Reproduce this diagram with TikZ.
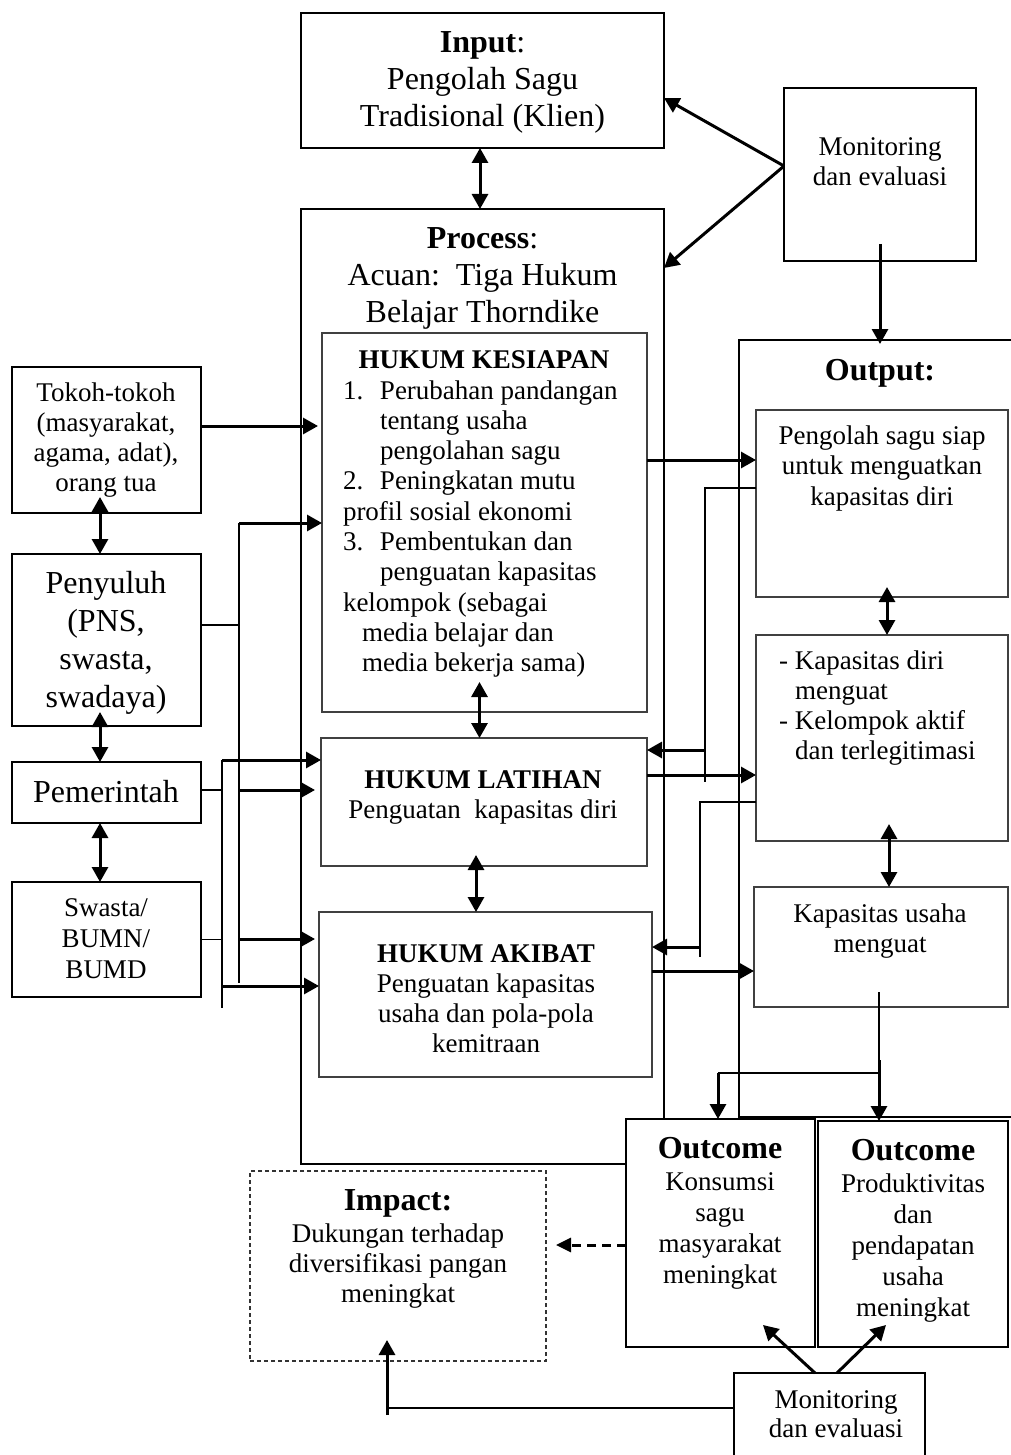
\documentclass[tikz,border=0pt]{standalone}
\usepackage{fontspec}
\setmainfont{Liberation Serif}
\usetikzlibrary{arrows.meta,fit,calc}
\newcommand\fA{\fontsize{27}{30}\selectfont}
\newcommand\fB{\fontsize{32}{37}\selectfont}
\newcommand\stA{\rule{0pt}{21pt}}
\newcommand\stB{\rule{0pt}{26pt}}
\begin{document}
\begin{tikzpicture}[x=1pt,y=-1pt,
  box/.style={draw=black, line width=1.3pt, inner sep=0pt, outer sep=0pt},
  sub/.style={box, draw=black!75},
  tx/.style={inner sep=0pt, outer sep=0pt, anchor=north, align=center},
  txl/.style={inner sep=0pt, outer sep=0pt, anchor=north west, align=left},
  thinl/.style={line width=1.3pt},
  arr/.style={line width=3pt, -{Triangle[length=15pt,width=16pt]}},
  darr/.style={line width=3pt, {Triangle[length=15pt,width=16pt]}-{Triangle[length=15pt,width=16pt]}},
  dasharr/.style={line width=3pt, dash pattern=on 9pt off 6pt, -{Triangle[length=15pt,width=14pt]}},
]
\useasboundingbox (0,0) rectangle (1011,1455);

% ---------- boxes ----------
\node[box, fit={(301,13) (664,148)}] (inp) {};
\node[box, fit={(784,88) (976,261)}] (mon1) {};
\node[box, fit={(301,209) (664,1164)}] (proc) {};
\node[sub, fit={(322,333) (647,712)}] (kes) {};
\node[sub, fit={(321,738) (647,866)}] (lat) {};
\node[sub, fit={(319,912) (652,1077)}] (aki) {};
\node[box, fit={(12,367) (201,513)}] (tok) {};
\node[box, fit={(12,554) (201,726)}] (pen) {};
\node[box, fit={(12,762) (201,823)}] (pem) {};
\node[box, fit={(12,882) (201,997)}] (swa) {};
\node[box, fit={(739,340) (1040,1117)}] (outp) {};
\node[sub, fit={(756,410) (1008,597)}] (o1) {};
\node[sub, fit={(756,635) (1008,841)}] (o2) {};
\node[sub, fit={(754,887) (1008,1007)}] (o3) {};
\node[box, fill=white, fit={(626,1119) (815,1347)}] (oc1) {};
\node[box, fill=white, fit={(818,1121) (1008,1347)}] (oc2) {};
\node[box, draw=black!80, line width=1.1pt, dash pattern=on 4pt off 3pt, fit={(250,1171) (546,1361)}] (imp) {};
\node[box, fit={(734,1373) (925,1475)}] (mon2) {};

% ---------- texts ----------
\node[tx, font=\fB] (tinp) at (482.5,27) {\stB\textbf{Input}:\\Pengolah Sagu\\Tradisional (Klien)};
\node[tx, font=\fB] (tproc) at (482.5,222) {\stB\textbf{Process}:\\Acuan:~~Tiga Hukum\\Belajar Thorndike};
\node[tx, font=\fA] (tmon1) at (880,135) {\stA Monitoring\\dan evaluasi};
\node[tx, font=\fA] (ttok) at (106,380) {\stA Tokoh-tokoh\\(masyarakat,\\agama, adat),\\orang tua};
\node[tx, font=\fontsize{32}{38}\selectfont] (tpen) at (106,567) {\stB Penyuluh\\(PNS,\\swasta,\\swadaya)};
\node[tx, font=\fB] (tpem) at (106,776) {\stB Pemerintah};
\node[tx, font=\fontsize{27}{31}\selectfont] (tswa) at (106,895) {\stA Swasta/\\BUMN/\\BUMD};
\node[tx, font=\fA\bfseries] (tkes) at (484,347) {\stA HUKUM KESIAPAN};
\node[txl, font=\fontsize{27}{30.3}\selectfont] (tkesl) at (343,378) {\stA\makebox[37pt][l]{1.}Perubahan pandangan\\
  \hspace*{37pt}tentang usaha\\
  \hspace*{37pt}pengolahan sagu\\
  \makebox[37pt][l]{2.}Peningkatan mutu\\
  profil sosial ekonomi\\
  \makebox[37pt][l]{3.}Pembentukan dan\\
  \hspace*{37pt}penguatan kapasitas\\
  kelompok (sebagai\\
  \hspace*{19pt}media belajar dan\\
  \hspace*{19pt}media bekerja sama)};
\node[tx, font=\fA] (tlat) at (483,767) {\stA\textbf{HUKUM LATIHAN}\\Penguatan~~kapasitas diri};
\node[tx, font=\fontsize{27}{30.3}\selectfont] (taki) at (486,941) {\stA\textbf{HUKUM AKIBAT}\\Penguatan kapasitas\\usaha dan pola-pola\\kemitraan};
\node[tx, font=\fB\bfseries] (tout) at (880,354) {\stB Output:};
\node[tx, font=\fontsize{27}{30.5}\selectfont] (to1) at (882,423) {\stA Pengolah sagu siap\\untuk menguatkan\\kapasitas diri};
\node[txl, font=\fA] (to2) at (779,648) {\stA\makebox[16pt][l]{-}Kapasitas diri\\
  \hspace*{16pt}menguat\\
  \makebox[16pt][l]{-}Kelompok aktif\\
  \hspace*{16pt}dan terlegitimasi};
\node[tx, font=\fA] (to3) at (880,901) {\stA Kapasitas usaha\\menguat};
\node[tx, font=\fB\bfseries] (toc1t) at (720,1132) {\stB Outcome};
\node[tx, font=\fontsize{27}{31}\selectfont] (toc1b) at (720,1169) {\stA Konsumsi\\sagu\\masyarakat\\meningkat};
\node[tx, font=\fB\bfseries] (toc2t) at (913,1134) {\stB Outcome};
\node[tx, font=\fontsize{27}{31}\selectfont] (toc2b) at (913,1171) {\stA Produktivitas\\dan\\pendapatan\\usaha\\meningkat};
\node[tx, font=\fB\bfseries] (timpt) at (398,1184) {\stB Impact:};
\node[tx, font=\fA] (timpb) at (398,1221) {\stA Dukungan terhadap\\diversifikasi pangan\\meningkat};
\node[tx, font=\fontsize{27}{29}\selectfont] (tmon2) at (836,1387) {\stA Monitoring\\dan evaluasi};

% ---------- top connectors ----------
\coordinate (mL) at ([yshift=8.5pt]mon1.west);
\draw[arr] (mL) -- ([yshift=-85pt]inp.north east);
\draw[arr] (mL) -- ([yshift=-59pt]proc.north east);
\draw[arr] ([yshift=17pt]mon1.south) -- ([yshift=-4pt]mon1.south |- outp.north);
\draw[darr] ([xshift=-2.5pt]inp.south) -- ([xshift=-2.5pt]proc.north);
\draw[darr] ([xshift=-5pt,yshift=30pt]kes.south) -- ([xshift=-5pt]kes.south |- lat.north);
\coordinate (la) at ([xshift=-8pt,yshift=11pt]lat.south);
\draw[darr] (la) -- (la |- aki.north);

% ---------- left connectors ----------
\coordinate (t1) at ([yshift=14pt]tok.east);
\draw[arr, shorten >=4pt] (t1) -- (t1 -| kes.west);
\coordinate (pA) at ([yshift=15pt]pen.east);
\coordinate (bA1) at (239,523);
\coordinate (bA2) at (239,983);
\coordinate (bA3) at (239,790);
\coordinate (bA4) at (239,939);
\draw[thinl] (pA) -- (pA -| bA1);
\draw[thinl] (bA1) -- (bA2);
\draw[arr] (bA1) -- (bA1 -| kes.west);
\draw[arr, shorten >=6pt] (bA3) -- (bA3 -| lat.west);
\draw[arr, shorten >=4pt] (bA4) -- (bA4 -| aki.west);
\coordinate (bB1) at (222,760);
\coordinate (bB2) at (222,1008);
\coordinate (bB3) at (222,986);
\coordinate (pe) at ([yshift=2.5pt]pem.east);
\draw[thinl] (pe) -- (pe -| bB1);
\draw[thinl] (swa.east) -- (swa.east -| bB1);
\draw[thinl] (bB1) -- (bB2);
\draw[arr] (bB1) -- (bB1 -| lat.west);
\draw[arr] (bB3) -- (bB3 -| aki.west);
\draw[darr] ([xshift=-6.5pt,yshift=16pt]tok.south) -- ([xshift=-6.5pt]pen.north);
\draw[darr] ([xshift=-6.5pt,yshift=14pt]pen.south) -- ([xshift=-6.5pt]pem.north);
\draw[darr] ([xshift=-6.5pt]pem.south) -- ([xshift=-6.5pt]swa.north);

% ---------- right connectors ----------
\coordinate (k1) at ([yshift=62.5pt]kes.east);
\draw[arr] (k1) -- (k1 -| o1.west);
\coordinate (f1a) at ([yshift=15.5pt]o1.west);
\coordinate (f1b) at (705,782);
\coordinate (f1c) at (705,750);
\draw[thinl] (f1a) -- (f1a -| f1b) -- (f1b);
\draw[arr] (f1c) -- (f1c -| lat.east);
\coordinate (l1) at ([yshift=27pt]lat.east);
\draw[arr] (l1) -- (l1 -| o2.west);
\coordinate (f2a) at ([yshift=-64pt]o2.west);
\coordinate (f2b) at (700,957);
\coordinate (f2c) at (700,947);
\draw[thinl] (f2a) -- (f2a -| f2b) -- (f2b);
\draw[arr] (f2c) -- (f2c -| aki.east);
\coordinate (a1) at ([yshift=23.5pt]aki.east);
\draw[arr] (a1) -- (a1 -| o3.west);
\coordinate (d1) at ([xshift=5pt,yshift=10pt]o1.south);
\draw[darr] (d1) -- (d1 |- o2.north);
\coordinate (d2) at ([xshift=7pt,yshift=17pt]o2.south);
\draw[darr] (d2) -- (d2 |- o3.north);

% ---------- to outcomes ----------
\coordinate (s1) at ([xshift=-2pt,yshift=15pt]o3.south);
\coordinate (s2) at (879,1073);
\coordinate (s3) at (718,1073);
\coordinate (s4) at (879,1060);
\draw[thinl] (s1) -- (s2) -- (s3);
\draw[arr] (s4) -- (s4 |- oc2.north);
\draw[arr] (s3) -- (s3 |- oc1.north);

% ---------- bottom ----------
\coordinate (dd) at ([yshift=-12pt]oc1.west);
\draw[dasharr, shorten >=10pt] (dd) -- (dd -| imp.east);
\draw[arr] ([xshift=-14.5pt]mon2.north) -- ([xshift=42.5pt,yshift=22pt]oc1.south);
\draw[arr] ([xshift=7.5pt]mon2.north) -- ([xshift=-27pt,yshift=22pt]oc2.south);
\coordinate (i1) at ([yshift=16pt]mon2.west);
\coordinate (i2) at (387,1408);
\coordinate (i3) at (387,1415);
\coordinate (i4) at ([xshift=-11pt,yshift=21pt]imp.south);
\draw[thinl] (i1) -- (i2);
\draw[arr] (i3) -- (i4);
\end{tikzpicture}
\end{document}
